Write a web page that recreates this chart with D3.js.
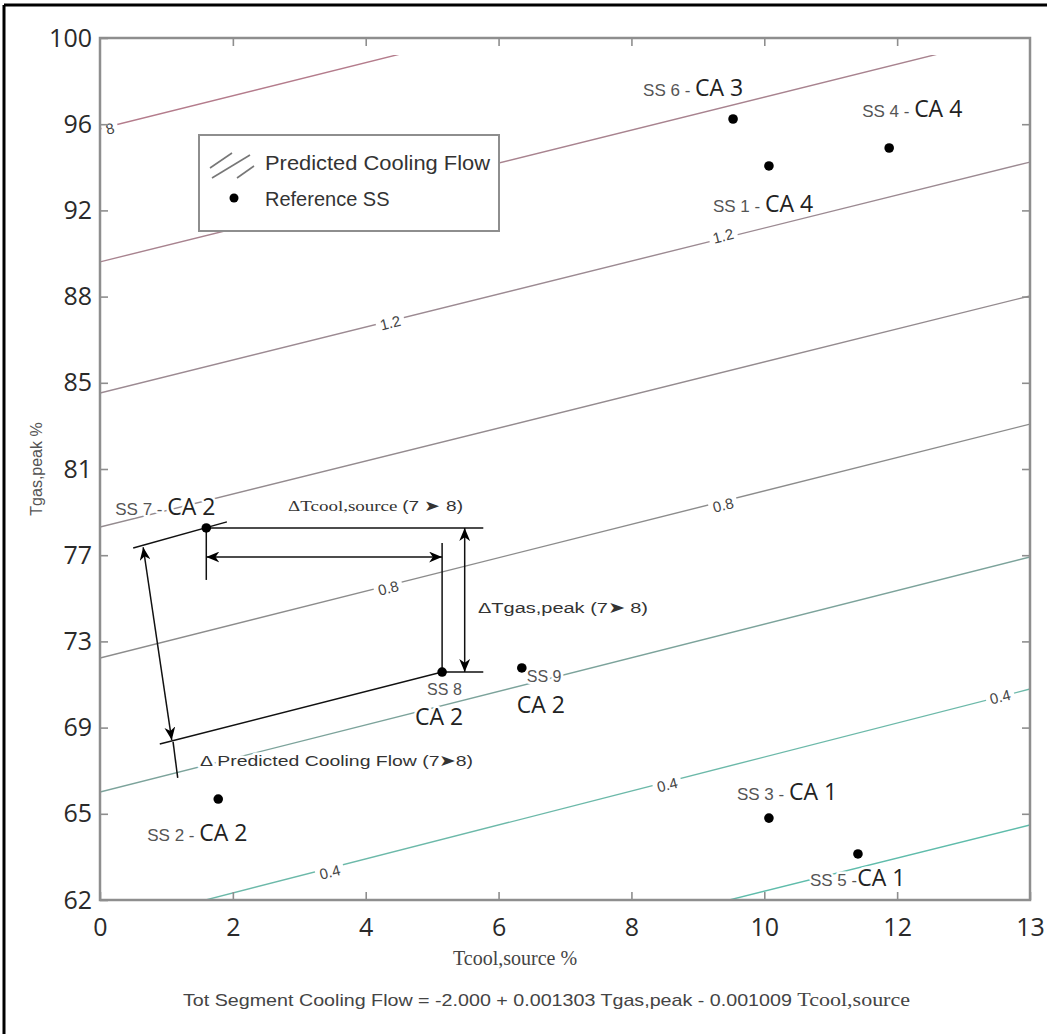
<!DOCTYPE html>
<html><head><meta charset="utf-8">
<script src="https://cdn.jsdelivr.net/npm/d3@7"></script>
<style>body{margin:0;background:#fff}</style>
</head><body><svg id="chart" width="1047" height="1034"></svg>
<script>
// ---------------- data ----------------
const xTickValues = [0, 2, 4, 6, 8, 10, 12, 14];
const xTickLabels = ["0", "2", "4", "6", "8", "10", "12", "13"];
const yTickValues = [62, 65.8, 69.6, 73.4, 77.2, 81, 84.8, 88.6, 92.4, 96.2, 100];
const yTickLabels = ["62", "65", "69", "73", "77", "81", "85", "88", "92", "96", "100"];

// predicted cooling flow contour levels: Tgas,peak at Tcool=0 and at Tcool=14
const contourLevels  = [1.6, 1.4, 1.2, 1.0, 0.8, 0.6, 0.4, 0.2];
const contourAtLeft  = [96.0, 90.13, 84.35, 78.44, 72.67, 66.76, 60.81, 55.08];
const contourAtRight = [106.2, 100.3, 94.53, 88.63, 82.98, 77.12, 71.3, 65.31];
const contourGridTop = 99.25;

const contourLabelText  = ["8", "1.2", "1.2", "0.8", "0.8", "0.4", "0.4", "0.4"];
const contourLabelTcool = [0.15, 4.37, 9.38, 4.34, 9.38, 3.46, 8.54, 13.55];
const contourLabelTgas  = [96.0, 87.44, 91.27, 75.75, 79.41, 63.23, 67.07, 70.95];

// reference steady states
const ssNames = ["SS 1", "SS 2", "SS 3", "SS 4", "SS 5", "SS 6", "SS 7", "SS 8", "SS 9"];
const caNames = ["CA 4", "CA 2", "CA 1", "CA 4", "CA 1", "CA 3", "CA 2", "CA 2", "CA 2"];
const ssTcool = [10.07, 1.78, 10.07, 11.88, 11.41, 9.53, 1.60, 5.15, 6.35];
const ssTgas  = [94.36, 66.45, 65.61, 95.15, 64.03, 96.43, 78.40, 72.05, 72.23];

// annotation geometry (data units)
const ss7Line   = [[0.50, 77.52], [1.91, 78.67]];
const ss8Line   = [[0.90, 68.88], [5.15, 72.05], [5.77, 72.05]];
const topHoriz  = [[1.60, 78.40], [5.77, 78.40]];
const ss7Vert   = [[1.60, 78.40], [1.60, 76.11]];
const tcoolArrow= [[1.60, 77.12], [5.15, 77.12]];
const ss8Vert   = [[5.15, 77.74], [5.15, 72.05]];
const tgasArrow = [[5.49, 78.40], [5.49, 72.05]];
const flowArrow = [[0.65, 77.55], [1.08, 69.05]];
const flowTick  = [[1.10, 68.97], [1.17, 67.38]];

// ---------------- layout ----------------
const svg = d3.select("#chart");
const W = 1047, H = 1034;
const m = {left: 100, top: 38, right: 1030, bottom: 900};

const x = d3.scaleLinear().domain([0, 14]).range([m.left, m.right]);
const y = d3.scaleLinear().domain([62, 100]).range([m.bottom, m.top]);

svg.append("rect").attr("width", W).attr("height", H).attr("fill", "#fff");
// outer frame (top & left)
svg.append("line").attr("x1", 4).attr("x2", W).attr("y1", 5).attr("y2", 5).attr("stroke", "#000").attr("stroke-width", 3);
svg.append("line").attr("x1", 4).attr("x2", 4).attr("y1", 5).attr("y2", H).attr("stroke", "#000").attr("stroke-width", 3);

// clip for contours
svg.append("clipPath").attr("id", "cgrid").append("rect")
  .attr("x", x(0)).attr("y", y(contourGridTop))
  .attr("width", x(14) - x(0)).attr("height", y(62) - y(contourGridTop));

const colorOf = d3.scaleLinear().domain([0.2, 0.4, 0.8, 1.2, 1.6])
  .range(["#5fbcab", "#6cb9a9", "#8c8c8c", "#9c8a92", "#b47c8c"]);

const cg = svg.append("g").attr("clip-path", "url(#cgrid)");
cg.selectAll("line").data(contourLevels).join("line")
  .attr("x1", x(0)).attr("x2", x(14))
  .attr("y1", (d, i) => y(contourAtLeft[i]))
  .attr("y2", (d, i) => y(contourAtRight[i]))
  .attr("stroke", d => colorOf(d)).attr("stroke-width", 1.4);

// contour labels
const angleDeg = Math.atan2(y(contourAtRight[0]) - y(contourAtLeft[0]), x(14) - x(0)) * 180 / Math.PI;
contourLabelText.forEach((t, i) => {
  const g = svg.append("g")
    .attr("transform", `translate(${x(contourLabelTcool[i])},${y(contourLabelTgas[i])}) rotate(${angleDeg})`);
  const txt = g.append("text").text(t)
    .attr("text-anchor", "middle").attr("dy", "0.35em")
    .attr("font-family", "Liberation Sans, Arial, sans-serif")
    .attr("font-size", 15).attr("fill", "#444");
  const bb = txt.node().getBBox();
  g.insert("rect", "text").attr("x", bb.x - 4).attr("y", bb.y - 1)
    .attr("width", bb.width + 8).attr("height", bb.height + 2).attr("fill", "#fff");
});

// plot frame
svg.append("rect").attr("x", m.left).attr("y", m.top)
  .attr("width", m.right - m.left).attr("height", m.bottom - m.top)
  .attr("fill", "none").attr("stroke", "#8e8e8e").attr("stroke-width", 2.5);

// axes
function styleAxis(g) {
  g.select(".domain").remove();
  g.selectAll(".tick line").attr("stroke", "#8e8e8e").attr("stroke-width", 1.6);
  g.selectAll(".tick text").attr("font-family", "Open Sans, sans-serif")
    .attr("font-size", 25).attr("fill", "#2a2a2a");
}
svg.append("g").attr("transform", `translate(${m.left},0)`)
  .call(d3.axisLeft(y).tickValues(yTickValues).tickFormat((d, i) => yTickLabels[i])
    .tickSizeInner(-8).tickSizeOuter(0).tickPadding(8)).call(styleAxis);
svg.append("g").attr("transform", `translate(0,${m.bottom})`)
  .call(d3.axisBottom(x).tickValues(xTickValues).tickFormat((d, i) => xTickLabels[i])
    .tickSizeInner(-8).tickSizeOuter(0).tickPadding(18)).call(styleAxis);
svg.append("g").attr("transform", `translate(0,${m.top})`)
  .call(d3.axisTop(x).tickValues(xTickValues.slice(1, -1)).tickFormat("")
    .tickSizeInner(-8).tickSizeOuter(0)).call(styleAxis);
svg.append("g").attr("transform", `translate(${m.right},0)`)
  .call(d3.axisRight(y).tickValues(yTickValues.slice(1, -1)).tickFormat("")
    .tickSizeInner(-8).tickSizeOuter(0)).call(styleAxis);

// axis titles
svg.append("text").attr("transform", `translate(42,${(m.top + m.bottom) / 2}) rotate(-90)`)
  .attr("text-anchor", "middle").attr("font-family", "Liberation Sans, Arial, sans-serif")
  .attr("font-size", 16).attr("fill", "#555").text("Tgas,peak %");
svg.append("text").attr("x", 515).attr("y", 965).attr("text-anchor", "middle")
  .attr("font-family", "Liberation Serif, Times New Roman, serif")
  .attr("font-size", 20).attr("fill", "#444").text("Tcool,source %");
const eq = svg.append("text").attr("x", 183).attr("y", 1006)
  .attr("font-family", "Liberation Sans, Arial, sans-serif").attr("font-size", 17).attr("fill", "#444")
  .attr("textLength", 727).attr("lengthAdjust", "spacingAndGlyphs");
eq.append("tspan").text("Tot Segment Cooling Flow = -2.000 + 0.001303 Tgas,peak - 0.001009 ");
eq.append("tspan").attr("font-family", "Liberation Serif, Times New Roman, serif").attr("font-size", 19).text("Tcool,source");

// legend
const lg = svg.append("g");
lg.append("rect").attr("x", 199).attr("y", 135).attr("width", 300).attr("height", 96)
  .attr("fill", "#fff").attr("stroke", "#8e8e8e").attr("stroke-width", 2);
[[210, 168, 232, 153], [212, 178, 250, 155], [237, 178, 254, 166]].forEach(s => {
  lg.append("line").attr("x1", s[0]).attr("y1", s[1]).attr("x2", s[2]).attr("y2", s[3])
    .attr("stroke", "#777").attr("stroke-width", 1.6);
});
lg.append("circle").attr("cx", 234).attr("cy", 198).attr("r", 4.5).attr("fill", "#000");
lg.append("text").attr("x", 265).attr("y", 170).text("Predicted Cooling Flow")
  .attr("font-family", "Liberation Sans, Arial, sans-serif").attr("font-size", 20).attr("fill", "#333")
  .attr("textLength", 225).attr("lengthAdjust", "spacingAndGlyphs");
lg.append("text").attr("x", 265).attr("y", 206).text("Reference SS")
  .attr("font-family", "Liberation Sans, Arial, sans-serif").attr("font-size", 20).attr("fill", "#333");

// arrow marker
const defs = svg.append("defs");
defs.append("marker").attr("id", "ah").attr("viewBox", "0 0 12 10")
  .attr("refX", 12).attr("refY", 5).attr("markerWidth", 13).attr("markerHeight", 11)
  .attr("markerUnits", "userSpaceOnUse").attr("orient", "auto-start-reverse")
  .append("path").attr("d", "M0,0 L12,5 L0,10 L3.5,5 Z").attr("fill", "#000");

const lineGen = d3.line().x(d => x(d[0])).y(d => y(d[1]));
const ann = svg.append("g").attr("fill", "none").attr("stroke", "#111").attr("stroke-width", 1.5);
[ss7Line, ss8Line, topHoriz, ss7Vert, ss8Vert, flowTick].forEach(p => ann.append("path").attr("d", lineGen(p)));
[tcoolArrow, tgasArrow, flowArrow].forEach(p => ann.append("path").attr("d", lineGen(p))
  .attr("marker-start", "url(#ah)").attr("marker-end", "url(#ah)"));

// annotation texts
function haloText(sel) {
  return sel.attr("stroke", "#fff").attr("stroke-width", 5).attr("paint-order", "stroke")
    .attr("stroke-linejoin", "round");
}
const t1 = haloText(svg.append("text").attr("x", 288).attr("y", 511).attr("fill", "#333")
  .attr("font-family", "Liberation Serif, Times New Roman, serif").attr("font-size", 15)
  .attr("textLength", 175).attr("lengthAdjust", "spacingAndGlyphs"));
t1.append("tspan").text("\u0394Tcool,source ");
t1.append("tspan").attr("font-family", "Liberation Sans, Arial, sans-serif").text("(7 \u27A4 8)");
haloText(svg.append("text").attr("x", 478).attr("y", 613).attr("fill", "#333")
  .attr("font-family", "Liberation Sans, Arial, sans-serif").attr("font-size", 15.5)
  .attr("textLength", 170).attr("lengthAdjust", "spacingAndGlyphs").text("\u0394Tgas,peak (7\u27A4 8)"));
haloText(svg.append("text").attr("x", 200).attr("y", 766).attr("fill", "#333")
  .attr("font-family", "Liberation Sans, Arial, sans-serif").attr("font-size", 15.5)
  .attr("textLength", 273).attr("lengthAdjust", "spacingAndGlyphs").text("\u0394 Predicted Cooling Flow (7\u27A48)"));

// point labels
const labelLayout = {
  "SS 1": {dx: -56, dy: 46, sep: " - "},
  "SS 2": {dx: -71, dy: 42, sep: " - "},
  "SS 3": {dx: -32, dy: -18, sep: "  - "},
  "SS 4": {dx: -27, dy: -31, sep: " - "},
  "SS 5": {dx: -48, dy: 32, sep: " -"},
  "SS 6": {dx: -90, dy: -23, sep: " - "},
  "SS 7": {dx: -91, dy: -13, sep: " - "},
  "SS 8": {dx: -15, dy: 23, dx2: -27, dy2: 53},
  "SS 9": {dx: 5, dy: 14, dx2: -5, dy2: 45}
};
const smallFont = "Liberation Sans, Arial, sans-serif";
const bigFont = "Open Sans, sans-serif";
ssNames.forEach((n, i) => {
  const L = labelLayout[n];
  const px = x(ssTcool[i]), py = y(ssTgas[i]);
  if (L.dx2 === undefined) {
    const t = haloText(svg.append("text").attr("x", px + L.dx).attr("y", py + L.dy));
    t.append("tspan").attr("font-family", smallFont).attr("font-size", 17).attr("fill", "#555").text(n + L.sep);
    t.append("tspan").attr("font-family", bigFont).attr("font-size", 23).attr("fill", "#222").text(caNames[i]);
  } else {
    haloText(svg.append("text").attr("x", px + L.dx).attr("y", py + L.dy)
      .attr("font-family", smallFont).attr("font-size", 16).attr("fill", "#555").text(n));
    haloText(svg.append("text").attr("x", px + L.dx2).attr("y", py + L.dy2)
      .attr("font-family", bigFont).attr("font-size", 23).attr("fill", "#222").text(caNames[i]));
  }
});

// reference points
svg.append("g").selectAll("circle").data(ssNames).join("circle")
  .attr("cx", (d, i) => x(ssTcool[i])).attr("cy", (d, i) => y(ssTgas[i]))
  .attr("r", 4.8).attr("fill", "#000");
</script></body></html>
